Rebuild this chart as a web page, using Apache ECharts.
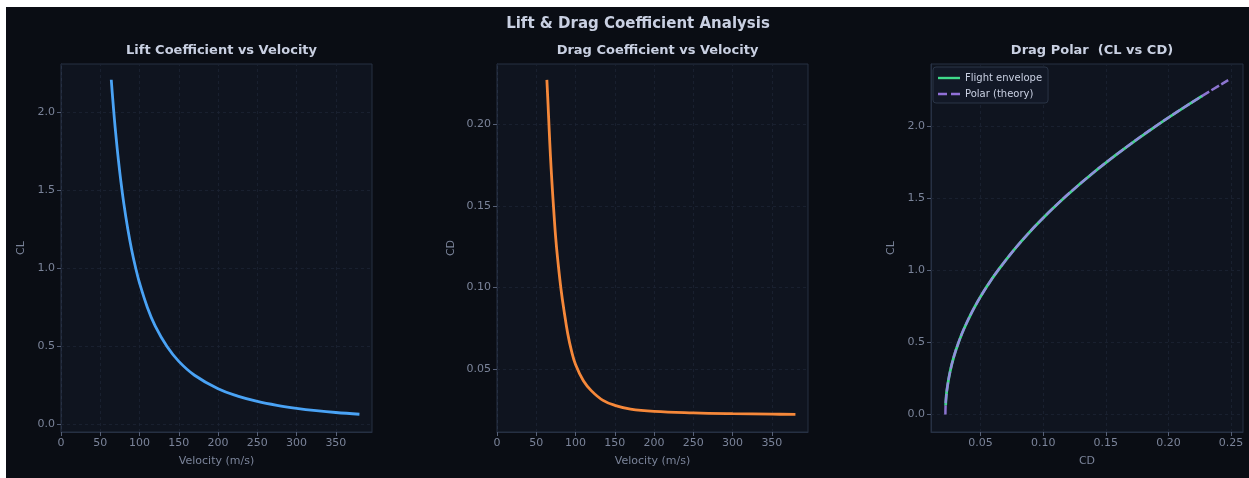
<!DOCTYPE html>
<html>
<head>
<meta charset="utf-8">
<script src="https://cdn.jsdelivr.net/npm/echarts@6/dist/echarts.min.js"></script>
<style>
html,body{margin:0;padding:0;background:#ffffff;width:1249px;height:478px;overflow:hidden;}
#c{position:absolute;left:6px;top:7px;width:1243px;height:471px;}
</style>
</head>
<body>
<div id="c"></div>
<script>
// ---- data ----
const liftVelocity = [64, 66, 68, 70, 73, 76, 80, 85, 90, 95, 100, 110, 120, 135, 150, 170, 200, 225, 250, 275, 300, 325, 350, 380];
const liftCL = [2.209, 2.078, 1.957, 1.847, 1.698, 1.567, 1.414, 1.253, 1.117, 1.003, 0.905, 0.748, 0.628, 0.497, 0.402, 0.313, 0.226, 0.179, 0.145, 0.120, 0.101, 0.086, 0.074, 0.063];

const dragVelocity = [63.5, 65, 66.5, 68, 70, 72, 75, 78, 81.5, 85, 90, 95, 100, 110, 120, 135, 150, 170, 200, 250, 300, 350, 380];
const dragCD = [0.227, 0.212, 0.196, 0.181, 0.164, 0.149, 0.129, 0.114, 0.099, 0.087, 0.072, 0.061, 0.053, 0.043, 0.037, 0.031, 0.028, 0.0257, 0.0243, 0.0234, 0.0229, 0.0226, 0.0225];

const envelopeCL = [0.063, 0.1, 0.15, 0.2, 0.3, 0.4, 0.5, 0.6, 0.75, 0.9, 1.0, 1.2, 1.4, 1.6, 1.8, 2.0, 2.209];
const envelopeCD = [0.0222, 0.0224, 0.0229, 0.0237, 0.0258, 0.0287, 0.0325, 0.0371, 0.0456, 0.0560, 0.0640, 0.0825, 0.1043, 0.1295, 0.1581, 0.1900, 0.2269];

const theoryCL = [0, 0.05, 0.1, 0.2, 0.3, 0.4, 0.5, 0.6, 0.75, 0.9, 1.0, 1.2, 1.4, 1.6, 1.8, 2.0, 2.2, 2.318];
const theoryCD = [0.022, 0.0221, 0.0224, 0.0237, 0.0258, 0.0287, 0.0325, 0.0371, 0.0456, 0.0560, 0.0640, 0.0825, 0.1043, 0.1295, 0.1581, 0.1900, 0.2253, 0.2477];

const velocityTicks = [0, 50, 100, 150, 200, 250, 300, 350];
const liftTicks = [0, 0.5, 1.0, 1.5, 2.0];
const dragTicks = [0.05, 0.10, 0.15, 0.20];
const polarCDTicks = [0.05, 0.10, 0.15, 0.20, 0.25];
const polarCLTicks = [0, 0.5, 1.0, 1.5, 2.0];

const mainTitle = 'Lift & Drag Coefficient Analysis';
const subTitles = ['Lift Coefficient vs Velocity', 'Drag Coefficient vs Velocity', 'Drag Polar  (CL vs CD)'];

// ---- styling ----
const FONT = 'DejaVu Sans';
const TXT = '#c9d0e2';
const TICK = '#7b849a';
const BORDER = '#263043';
const GRIDLINE = '#1c2434';
const PLOTBG = '#0f141f';
const GREEN = '#3fd98a';
const PURPLE = '#9d82e8';

const zip = (a, b) => a.map((v, i) => [v, b[i]]);

const grids = [
  {left: 55, top: 57, width: 311, height: 368},
  {left: 491, top: 57, width: 311, height: 368},
  {left: 925, top: 57, width: 312, height: 368}
];

function xAxisCfg(gi, min, max, ticks, dec, name) {
  return {
    type: 'value', gridIndex: gi, min: min, max: max,
    name: name, nameLocation: 'middle', nameGap: 24,
    nameTextStyle: {color: TICK, fontFamily: FONT, fontSize: 11},
    axisLine: {show: true, onZero: false, lineStyle: {color: BORDER, width: 1}},
    axisTick: {show: true, customValues: ticks, length: 4, lineStyle: {color: '#566077', width: 1}},
    axisLabel: {customValues: ticks, color: TICK, fontFamily: FONT, fontSize: 11, margin: 6,
      formatter: v => dec === 0 ? String(Math.round(v)) : v.toFixed(dec)},
    splitLine: {show: false}
  };
}
function yAxisCfg(gi, min, max, ticks, dec, name) {
  return {
    type: 'value', gridIndex: gi, min: min, max: max,
    name: name, nameLocation: 'middle', nameGap: dec === 2 ? 40 : 34, nameRotate: 90,
    nameTextStyle: {color: TICK, fontFamily: FONT, fontSize: 11},
    axisLine: {show: true, onZero: false, lineStyle: {color: BORDER, width: 1}},
    axisTick: {show: true, customValues: ticks, length: 4, lineStyle: {color: '#566077', width: 1}},
    axisLabel: {customValues: ticks, color: TICK, fontFamily: FONT, fontSize: 11, margin: 6,
      formatter: v => v.toFixed(dec)},
    splitLine: {show: false}
  };
}
function gridSeries(gi, xt, yt) {
  return {
    type: 'line', xAxisIndex: gi, yAxisIndex: gi, data: [], silent: true, z: 1,
    markLine: {
      z: 1, silent: true, symbol: 'none', animation: false,
      label: {show: false},
      lineStyle: {color: GRIDLINE, type: [3, 3], width: 0.8},
      emphasis: {disabled: true},
      data: xt.map(v => ({xAxis: v})).concat(yt.map(v => ({yAxis: v})))
    }
  };
}

const option = {
  backgroundColor: '#0a0d14',
  animation: false,
  title: [
    {text: mainTitle, left: 627, top: 5, textAlign: 'center',
      textStyle: {color: TXT, fontFamily: FONT, fontSize: 15, fontWeight: 'bold'}},
    {text: subTitles[0], left: 55 + 311 / 2, top: 32, textAlign: 'center',
      textStyle: {color: TXT, fontFamily: FONT, fontSize: 13, fontWeight: 'bold'}},
    {text: subTitles[1], left: 491 + 311 / 2, top: 32, textAlign: 'center',
      textStyle: {color: TXT, fontFamily: FONT, fontSize: 13, fontWeight: 'bold'}},
    {text: subTitles[2], left: 925 + 312 / 2, top: 32, textAlign: 'center',
      textStyle: {color: TXT, fontFamily: FONT, fontSize: 13, fontWeight: 'bold'}}
  ],
  grid: grids.map(g => Object.assign({show: true, backgroundColor: PLOTBG, borderColor: BORDER, borderWidth: 1}, g)),
  legend: {
    left: 927, top: 60, orient: 'vertical',
    data: [
      {name: 'Flight envelope', icon: 'path://M0,0h24v2.6h-24z', itemStyle: {color: GREEN}},
      {name: 'Polar (theory)', icon: 'path://M0,0h9v2.6h-9z M13,0h9v2.6h-9z', itemStyle: {color: '#9170d8'}}
    ],
    itemWidth: 22, itemHeight: 3, itemGap: 6,
    padding: [6, 6, 4, 5],
    backgroundColor: '#121826', borderColor: '#2a3446', borderWidth: 1, borderRadius: 3,
    textStyle: {color: TXT, fontFamily: FONT, fontSize: 10},
    selectedMode: false
  },
  xAxis: [
    xAxisCfg(0, 0, 396, velocityTicks, 0, 'Velocity (m/s)'),
    xAxisCfg(1, 0, 396, velocityTicks, 0, 'Velocity (m/s)'),
    xAxisCfg(2, 0.0105, 0.2595, polarCDTicks, 2, 'CD')
  ],
  yAxis: [
    yAxisCfg(0, -0.051, 2.31, liftTicks, 1, 'CL'),
    yAxisCfg(1, 0.0117, 0.2367, dragTicks, 2, 'CD'),
    yAxisCfg(2, -0.121, 2.43, polarCLTicks, 1, 'CL')
  ],
  series: [
    gridSeries(0, velocityTicks, liftTicks),
    gridSeries(1, velocityTicks, dragTicks),
    gridSeries(2, polarCDTicks, polarCLTicks),
    {type: 'line', name: 'CL', xAxisIndex: 0, yAxisIndex: 0, data: zip(liftVelocity, liftCL),
      smooth: 0.4, showSymbol: false, symbol: 'none',
      lineStyle: {color: '#4aa3f5', width: 2.8}, itemStyle: {color: '#4aa3f5'}, z: 3},
    {type: 'line', name: 'CD', xAxisIndex: 1, yAxisIndex: 1, data: zip(dragVelocity, dragCD),
      smooth: 0.4, showSymbol: false, symbol: 'none',
      lineStyle: {color: '#f6883a', width: 2.8}, itemStyle: {color: '#f6883a'}, z: 3},
    {type: 'line', name: 'Flight envelope', xAxisIndex: 2, yAxisIndex: 2, data: zip(envelopeCD, envelopeCL),
      smooth: 0.4, showSymbol: false, symbol: 'none',
      lineStyle: {color: GREEN, width: 2.8}, itemStyle: {color: GREEN}, z: 3},
    {type: 'line', name: 'Polar (theory)', xAxisIndex: 2, yAxisIndex: 2, data: zip(theoryCD, theoryCL),
      smooth: 0.4, showSymbol: false, symbol: 'none',
      lineStyle: {color: PURPLE, width: 2.5, type: [9, 2.5], opacity: 0.88}, itemStyle: {color: PURPLE}, z: 4}
  ]
};

const chart = echarts.init(document.getElementById('c'), null, {renderer: 'canvas'});
chart.setOption(option);
</script>
</body>
</html>
